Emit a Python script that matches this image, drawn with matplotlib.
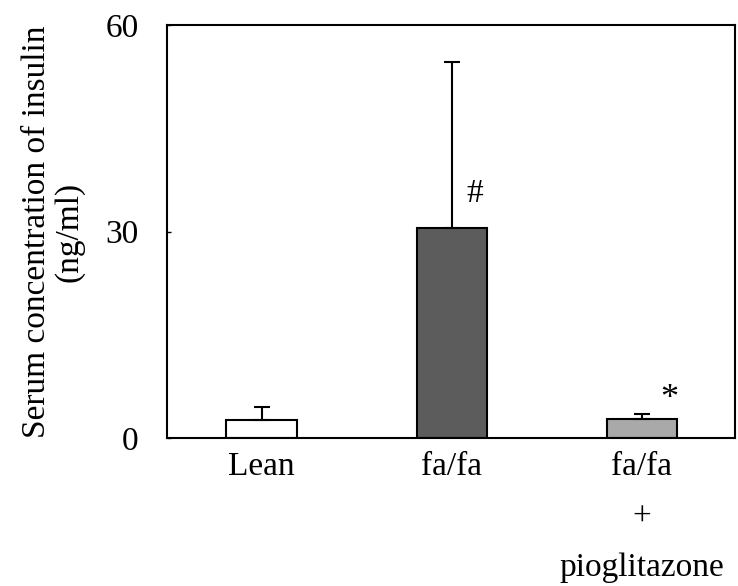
import matplotlib
matplotlib.use("Agg")
import matplotlib.pyplot as plt

categories = ["Lean", "fa/fa", "fa/fa\n+\npioglitazone"]
means = [2.6, 30.5, 2.8]
errors = [1.9, 24.1, 0.7]
markers = ["", "#", "*"]
colors = ["white", "#5c5c5c", "#a9a9a9"]

plt.rcParams['font.family'] = ['Liberation Serif', 'DejaVu Serif']

fig = plt.figure(figsize=(7.38, 5.86), dpi=100)
ax = fig.add_axes([166.5/738, 1 - 438/586, (735 - 166.5)/738, (438 - 25)/586])

x = list(range(len(categories)))
ax.bar(x, means, width=0.37, color=colors, edgecolor="black", linewidth=1.5, zorder=2)
ax.errorbar(x, means, yerr=[[0]*len(errors), errors], fmt="none", ecolor="black",
            elinewidth=1.5, capsize=5.5, capthick=1.5, zorder=3)

for xi, m, e, mk in zip(x, means, errors, markers):
    if mk == "#":
        ax.text(xi + 0.075, m + 5.0, mk, fontsize=24, ha="left", va="center")
    elif mk == "*":
        ax.text(xi + 0.095, m + 2.8, mk, fontsize=26, ha="left", va="center")

ax.set_xlim(-0.5, 2.49)
ax.set_ylim(0, 60)
ax.set_yticks([0, 30, 60])
ax.set_xticks(x)
ax.set_xticklabels(categories, fontsize=24, linespacing=1.85)
ax.tick_params(axis="y", direction="in", length=3, width=1, labelsize=24, pad=20)
ax.tick_params(axis="x", length=0, pad=10)
for s in ax.spines.values():
    s.set_linewidth(1.5)
ax.set_ylabel("Serum concentration of insulin\n(ng/ml)", fontsize=24, linespacing=1.05)
ax.yaxis.set_label_coords(-0.145, 0.5)

fig.savefig("out.png", dpi=100)
